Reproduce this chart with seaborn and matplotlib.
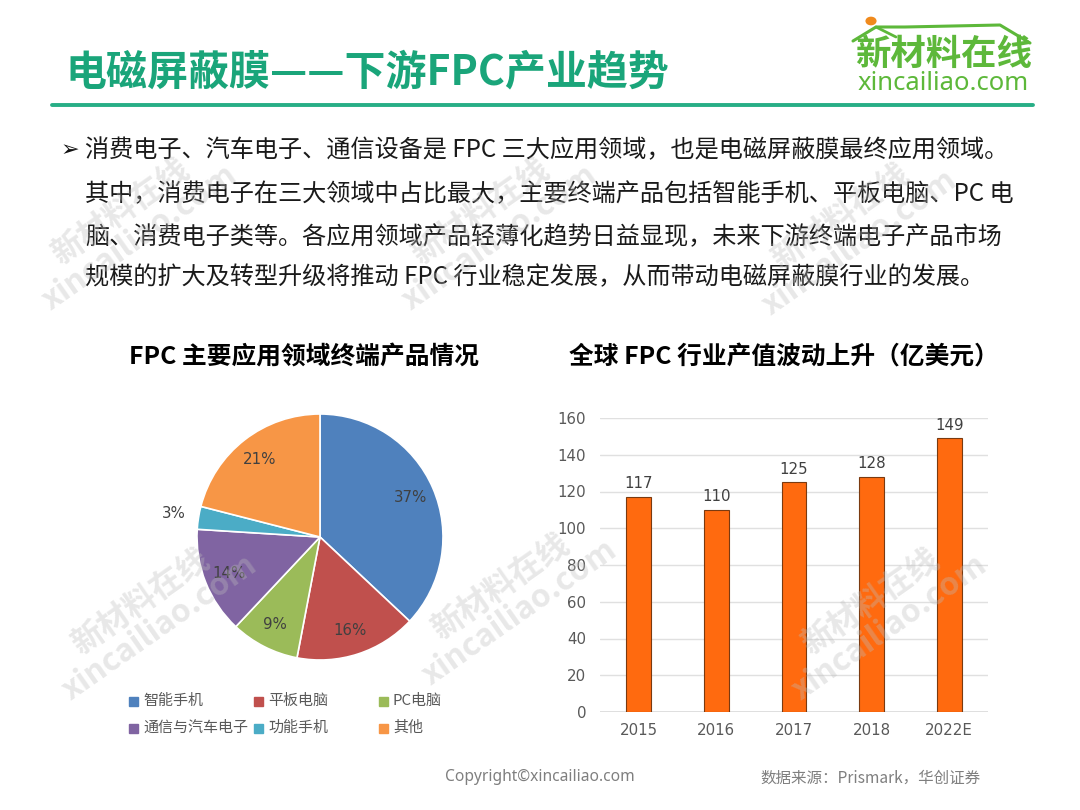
import matplotlib
matplotlib.use("Agg")
import matplotlib.pyplot as plt
import seaborn as sns
import pandas as pd
import numpy as np
from matplotlib.lines import Line2D
from matplotlib.patches import Circle

sns.set_theme(style="white")
plt.rcParams['font.family'] = ['Noto Sans CJK SC', 'DejaVu Sans']

# ---------------- data ----------------
title = "电磁屏蔽膜——下游FPC产业趋势"
body_lines = [
    "消费电子、汽车电子、通信设备是 FPC 三大应用领域，也是电磁屏蔽膜最终应用领域。",
    "其中，消费电子在三大领域中占比最大，主要终端产品包括智能手机、平板电脑、PC 电",
    "脑、消费电子类等。各应用领域产品轻薄化趋势日益显现，未来下游终端电子产品市场",
    "规模的扩大及转型升级将推动 FPC 行业稳定发展，从而带动电磁屏蔽膜行业的发展。",
]
pie_title = "FPC 主要应用领域终端产品情况"
pie_labels = ["智能手机", "平板电脑", "PC电脑", "通信与汽车电子", "功能手机", "其他"]
pie_shares = [37, 16, 9, 14, 3, 21]
pie_colors = ["#4F81BD", "#C0504D", "#9BBB59", "#8064A2", "#4BACC6", "#F79646"]

bar_title = "全球 FPC 行业产值波动上升（亿美元）"
years = ["2015", "2016", "2017", "2018", "2022E"]
output_value = [117, 110, 125, 128, 149]
y_ticks = [0, 20, 40, 60, 80, 100, 120, 140, 160]

copyright_text = "Copyright©xincailiao.com"
source_text = "数据来源：Prismark，华创证券"
logo_cn = "新材料在线"
logo_en = "xincailiao.com"

W, H = 1080, 810
fig = plt.figure(figsize=(W / 100, H / 100), dpi=100)
fig.patch.set_facecolor("white")

NUM_FONT = ["DejaVu Sans"]


def fx(x):
    return x / W


def fy(y):
    return 1 - y / H


def axes_px(left, top, width, height):
    return fig.add_axes([left / W, 1 - (top + height) / H, width / W, height / H])


# ---------------- header ----------------
fig.text(fx(65), fy(72), title, fontsize=29.5, fontweight="bold", color="#1AA57A",
         ha="left", va="center")
fig.add_artist(Line2D([fx(52), fx(1033)], [fy(104.5), fy(104.5)], color="#27AE86",
                      lw=2.8, transform=fig.transFigure))

# logo
logo_green = "#5DB83A"
fig.text(fx(943), fy(54), logo_cn, fontsize=25.5, fontweight="bold", color=logo_green,
         ha="center", va="center")
fig.text(fx(943), fy(83), logo_en, fontsize=18.5, color=logo_green, ha="center",
         va="center", family=["Noto Sans", "DejaVu Sans"])
roof_x = [853, 876, 905, 1000, 1030]
roof_y = [41, 27, 27, 25, 43]
fig.add_artist(Line2D([fx(v) for v in roof_x], [fy(v) for v in roof_y],
                      color=logo_green, lw=2.2, transform=fig.transFigure))
fig.add_artist(Line2D([fx(876), fx(896)], [fy(27), fy(37)], color=logo_green, lw=2.0,
                      transform=fig.transFigure))
fig.add_artist(Circle((fx(871), fy(21)), 0.0045, color="#F08A1C",
                      transform=fig.transFigure))

# ---------------- body text ----------------
body_y = [150, 194, 237, 277]
fig.text(fx(61), fy(body_y[0]), "➢", fontsize=16, color="#111111", ha="left",
         va="center", family=["DejaVu Sans"])
for line, yy in zip(body_lines, body_y):
    fig.text(fx(85), fy(yy), line, fontsize=17.4, color="#1A1A1A", ha="left",
             va="center")

# ---------------- chart titles ----------------
fig.text(fx(304), fy(357), pie_title, fontsize=17.8, fontweight="bold", color="#000000",
         ha="center", va="center")
fig.text(fx(784), fy(357), bar_title, fontsize=17.8, fontweight="bold", color="#000000",
         ha="center", va="center")

# ---------------- pie ----------------
R = 123
pax = axes_px(320 - R, 537 - R, 2 * R, 2 * R)
wedges, texts, autotexts = pax.pie(
    pie_shares, colors=pie_colors, startangle=90, counterclock=False,
    autopct=lambda p: f"{p:.0f}%", pctdistance=0.8,
    wedgeprops=dict(edgecolor="white", linewidth=1.2),
    textprops=dict(fontsize=10.8, color="#404040", family=NUM_FONT))
pax.set_xlim(-1, 1)
pax.set_ylim(-1, 1)
pax.set_aspect("equal")
pax.axis("off")
# move the small slice label outside
small = pie_shares.index(min(pie_shares))
w = wedges[small]
mid = np.deg2rad((w.theta1 + w.theta2) / 2)
autotexts[small].set_position((1.2 * np.cos(mid), 1.2 * np.sin(mid)))

# legend
leg_cols = [133, 258, 383]
leg_rows = [701, 728]
for i, (lab, col) in enumerate(zip(pie_labels, pie_colors)):
    cx = leg_cols[i % 3]
    cy = leg_rows[i // 3]
    fig.add_artist(plt.Rectangle((fx(cx - 4.5), fy(cy + 4.5)), 9 / W, 9 / H,
                                 color=col, transform=fig.transFigure))
    fig.text(fx(cx + 10), fy(cy), lab, fontsize=10.8, color="#595959", ha="left",
             va="center")

# ---------------- bar chart ----------------
bax = axes_px(600, 418, 388, 294)
df = pd.DataFrame({"year": years, "value": output_value})
sns.barplot(data=df, x="year", y="value", ax=bax, color="#FF6A0F", width=0.32,
            edgecolor="#7A3A10", linewidth=0.8, saturation=1)
bax.set_ylim(0, 160)
bax.set_xlim(-0.5, len(years) - 0.5)
bax.set_yticks(y_ticks)
bax.set_xlabel("")
bax.set_ylabel("")
bax.grid(axis="y", color="#E0E0E0", lw=1)
bax.set_axisbelow(True)
for s in bax.spines.values():
    s.set_visible(False)
bax.tick_params(axis="both", length=0, labelsize=10.8, labelcolor="#595959")
for t in bax.get_xticklabels() + bax.get_yticklabels():
    t.set_family(NUM_FONT)
bax.tick_params(axis="y", pad=10)
bax.tick_params(axis="x", pad=8)
bax.axhline(0, color="#D9D9D9", lw=1.2, zorder=0)
lbls = bax.bar_label(bax.containers[0], fmt="%d", padding=4, fontsize=10.8,
                     color="#404040")
for t in lbls:
    t.set_family(NUM_FONT)

# ---------------- footer ----------------
fig.text(fx(540), fy(777), copyright_text, fontsize=11.2, color="#7F7F7F",
         ha="center", va="center", family=["Noto Sans", "DejaVu Sans"])
fig.text(fx(870), fy(778), source_text, fontsize=11.2, color="#7F7F7F",
         ha="center", va="center", style="italic")

# ---------------- watermarks ----------------
wm_pos = [(130, 225), (490, 225), (850, 230), (150, 615), (510, 600), (880, 615)]
for (x, y) in wm_pos:
    fig.text(fx(x), fy(y), "新材料在线\nxincailiao.com", fontsize=23, fontweight="bold",
             color="#BDBDBD", alpha=0.35, rotation=35, ha="center", va="center",
             linespacing=1.0, zorder=10)

fig.savefig("out.png", dpi=100, facecolor="white")
